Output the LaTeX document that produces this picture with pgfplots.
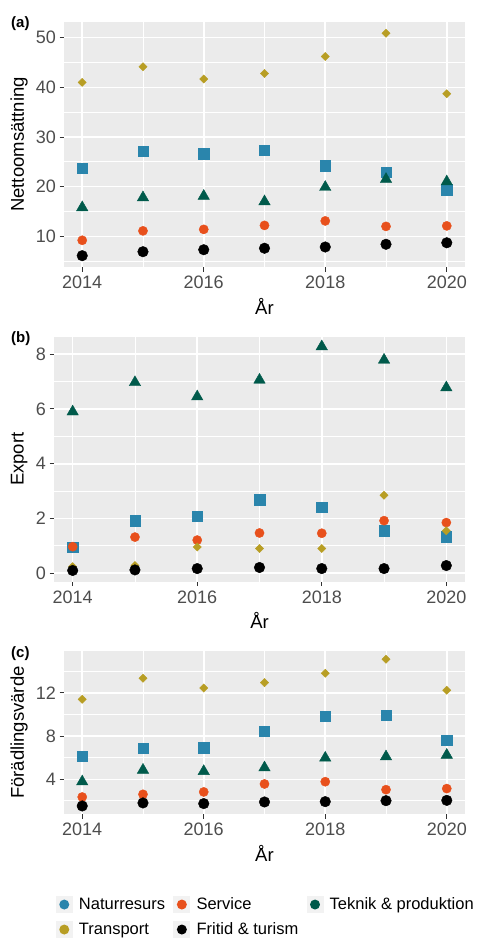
\documentclass[border=0pt]{standalone}
\usepackage{pgfplots}
\pgfplotsset{compat=1.18}
\usepackage{fontspec}
\setmainfont{Liberation Sans}
\definecolor{ggbg}{RGB}{235,235,235}
\definecolor{ggkey}{RGB}{242,242,242}
\definecolor{ticklab}{RGB}{77,77,77}
\definecolor{tickcol}{RGB}{51,51,51}
\definecolor{nat}{RGB}{42,133,172}
\definecolor{ser}{RGB}{232,80,28}
\definecolor{tek}{RGB}{0,90,75}
\definecolor{tra}{RGB}{184,158,36}
\definecolor{fri}{RGB}{0,0,0}
\pgfplotsset{
  ggbase/.style={
    scale only axis,
    axis background/.style={fill=ggbg},
    axis line style={draw=none},
    tick pos=left,
    tick align=outside,
    major tick length=4.5pt,
    minor tick length=0pt,
    every tick/.style={tickcol, line width=1pt},
    grid=both,
    major grid style={white, line width=1.6pt},
    minor grid style={white, line width=0.8pt},
    xmin=2013.7, xmax=2020.3,
    xtick={2014,2016,2018,2020},
    minor xtick={2013,2015,2017,2019,2021},
    /pgf/number format/assume math mode=true,
    /pgf/number format/1000 sep={},
    ticklabel style={font=\fontsize{18}{20}\selectfont, text=ticklab},
    xticklabel style={yshift=-1pt},
    label style={font=\fontsize{18.5}{21}\selectfont},
    xlabel={År},
    xlabel style={at={(axis description cs:0.5,0)}, anchor=center, yshift=-39pt},
    clip=false,
  },
  pnat/.style={only marks, mark=square*, mark size=5.2pt, color=nat},
  pser/.style={only marks, mark=*, mark size=4.6pt, color=ser},
  ptek/.style={only marks, mark=triangle*, mark size=6.6pt, color=tek},
  ptra/.style={only marks, mark=square*, mark size=2.9pt, mark options={rotate=45}, color=tra},
  pfri/.style={only marks, mark=*, mark size=5.3pt, color=fri},
}
\begin{document}
\begin{tikzpicture}
% ---------- (a)
\begin{axis}[ggbase,
  at={(64pt,-22pt)}, anchor=north west,
  width=401pt, height=245pt,
  ymin=3.82, ymax=53.16,
  ytick={10,20,30,40,50}, minor ytick={5,15,25,35,45},
  ylabel={Nettoomsättning},
  ylabel style={at={(axis description cs:-0.112,0.5)}, anchor=center},
]
\addplot[pnat] coordinates {(2014,23.75) (2015,27.2) (2016,26.6) (2017,27.4) (2018,24.2) (2019,22.9) (2020,19.4)};
\addplot[pser] coordinates {(2014,9.2) (2015,11.1) (2016,11.4) (2017,12.2) (2018,13.1) (2019,12.0) (2020,12.1)};
\addplot[ptek] coordinates {(2014,15.8) (2015,17.8) (2016,18.1) (2017,17.0) (2018,19.9) (2019,21.5) (2020,21.0)};
\addplot[ptra] coordinates {(2014,41.0) (2015,44.15) (2016,41.7) (2017,42.8) (2018,46.2) (2019,50.9) (2020,38.7)};
\addplot[pfri] coordinates {(2014,6.1) (2015,6.9) (2016,7.3) (2017,7.6) (2018,7.85) (2019,8.4) (2020,8.7)};
\end{axis}
% ---------- (b)
\begin{axis}[ggbase,
  at={(54pt,-336.7pt)}, anchor=north west,
  width=411pt, height=245pt,
  ymin=-0.31, ymax=8.64,
  ytick={0,2,4,6,8}, minor ytick={1,3,5,7},
  ylabel={Export},
  ylabel style={at={(axis description cs:-0.085,0.5)}, anchor=center},
]
\addplot[pnat] coordinates {(2014,0.95) (2015,1.92) (2016,2.08) (2017,2.68) (2018,2.41) (2019,1.56) (2020,1.34)};
\addplot[pser] coordinates {(2014,0.97) (2015,1.32) (2016,1.21) (2017,1.47) (2018,1.46) (2019,1.92) (2020,1.85)};
\addplot[ptek] coordinates {(2014,5.9) (2015,6.97) (2016,6.45) (2017,7.06) (2018,8.28) (2019,7.79) (2020,6.78)};
\addplot[ptra] coordinates {(2014,0.24) (2015,0.28) (2016,0.96) (2017,0.90) (2018,0.90) (2019,2.85) (2020,1.55)};
\addplot[pfri] coordinates {(2014,0.10) (2015,0.12) (2016,0.17) (2017,0.21) (2018,0.17) (2019,0.17) (2020,0.28)};
\end{axis}
% ---------- (c)
\begin{axis}[ggbase,
  at={(64pt,-651pt)}, anchor=north west,
  width=401pt, height=163.3pt,
  ymin=0.757, ymax=15.89,
  ytick={4,8,12}, minor ytick={2,6,10,14},
  ylabel={Förädlingsvärde},
  ylabel style={at={(axis description cs:-0.112,0.5)}, anchor=center},
  legend columns=3,
  legend cell align=left,
  legend style={draw=none, fill=none, at={(axis description cs:-0.0285,-0.487)}, anchor=north west,
    font=\fontsize{16.5}{19.5}\selectfont, row sep=8pt,
    nodes={inner sep=1.2pt}},
  /tikz/every odd column/.append style={column sep=5pt},
  /tikz/every even column/.append style={column sep=7pt},
  legend image code/.code={\fill[ggkey, draw=none] (0pt,-8.5pt) rectangle (17pt,8.5pt); \fill[draw=none, #1] (8.5pt,0pt) circle (5pt);},
]
\addlegendimage{fill=nat, draw=none}\addlegendentry{Naturresurs}
\addlegendimage{fill=ser, draw=none}\addlegendentry{Service}
\addlegendimage{fill=tek, draw=none}\addlegendentry{Teknik \& produktion}
\addlegendimage{fill=tra, draw=none}\addlegendentry{Transport}
\addlegendimage{fill=fri, draw=none}\addlegendentry{Fritid \& turism}
\addplot[pnat, forget plot] coordinates {(2014,6.16) (2015,6.9) (2016,6.93) (2017,8.48) (2018,9.84) (2019,9.96) (2020,7.61)};
\addplot[pser, forget plot] coordinates {(2014,2.36) (2015,2.61) (2016,2.83) (2017,3.57) (2018,3.78) (2019,3.04) (2020,3.14)};
\addplot[ptek, forget plot] coordinates {(2014,3.78) (2015,4.86) (2016,4.74) (2017,5.08) (2018,5.98) (2019,6.1) (2020,6.25)};
\addplot[ptra, forget plot] coordinates {(2014,11.41) (2015,13.36) (2016,12.46) (2017,12.96) (2018,13.82) (2019,15.12) (2020,12.25)};
\addplot[pfri, forget plot] coordinates {(2014,1.53) (2015,1.81) (2016,1.75) (2017,1.9) (2018,1.93) (2019,2.02) (2020,2.05)};
\end{axis}
% panel tags
\node[anchor=west, font=\fontsize{15}{17}\selectfont\bfseries, inner sep=0pt] at (11pt,-24pt) {(a)};
\node[anchor=west, font=\fontsize{15}{17}\selectfont\bfseries, inner sep=0pt] at (11pt,-339pt) {(b)};
\node[anchor=west, font=\fontsize{15}{17}\selectfont\bfseries, inner sep=0pt] at (11pt,-654pt) {(c)};
\pgfresetboundingbox
\path[use as bounding box] (0pt,0pt) rectangle (479pt,-938pt);
\end{tikzpicture}
\end{document}
